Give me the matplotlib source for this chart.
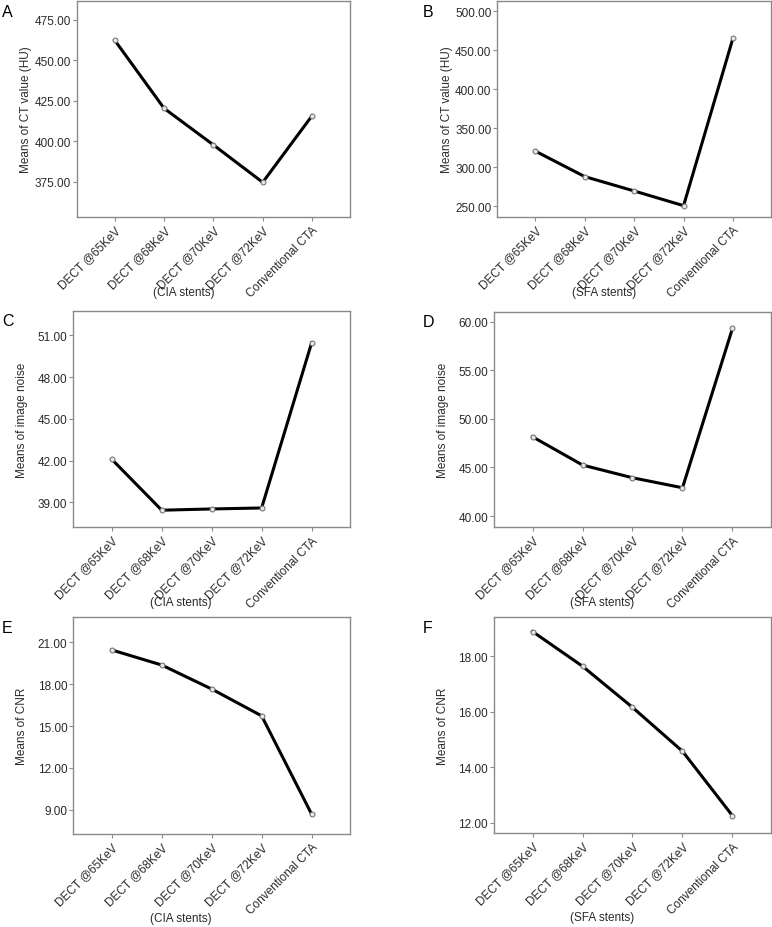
import matplotlib
matplotlib.use("Agg")
import matplotlib.pyplot as plt

plt.rcParams['font.family'] = ['Liberation Sans', 'DejaVu Sans']

# categories on the x axis
groups = ['DECT @65KeV', 'DECT @68KeV', 'DECT @70KeV', 'DECT @72KeV', 'Conventional CTA']

# means
ct_cia = [462.3, 420.3, 397.7, 374.6, 415.7]
ct_sfa = [320.6, 288.0, 269.6, 250.8, 465.2]
noise_cia = [42.09, 38.43, 38.52, 38.59, 50.45]
noise_sfa = [48.16, 45.25, 43.94, 42.91, 59.32]
cnr_cia = [20.45, 19.37, 17.65, 15.73, 8.69]
cnr_sfa = [18.89, 17.64, 16.16, 14.58, 12.26]

ct_cia_ticks = [375, 400, 425, 450, 475]
ct_sfa_ticks = [250, 300, 350, 400, 450, 500]
noise_cia_ticks = [39, 42, 45, 48, 51]
noise_sfa_ticks = [40, 45, 50, 55, 60]
cnr_cia_ticks = [9, 12, 15, 18, 21]
cnr_sfa_ticks = [12, 14, 16, 18]

fig = plt.figure(figsize=(7.72, 9.28), dpi=100)

panels = [
    # letter, rect, values, ticks, ylim, ylabel, xlabel, xlabel y
    ('A', [0.0994, 0.7651, 0.3540, 0.2327], ct_cia, ct_cia_ticks, (353.2, 486.5),
     'Means of CT value (HU)', '(CIA stents)', -0.347),
    ('B', [0.6442, 0.7651, 0.3545, 0.2327], ct_sfa, ct_sfa_ticks, (236.3, 512.8),
     'Means of CT value (HU)', '(SFA stents)', -0.347),
    ('C', [0.0950, 0.4307, 0.3584, 0.2334], noise_cia, noise_cia_ticks, (37.2, 52.77),
     'Means of image noise', '(CIA stents)', -0.345),
    ('D', [0.6399, 0.4307, 0.3588, 0.2323], noise_sfa, noise_sfa_ticks, (38.84, 61.03),
     'Means of image noise', '(SFA stents)', -0.345),
    ('E', [0.0950, 0.1002, 0.3584, 0.2335], cnr_cia, cnr_cia_ticks, (7.26, 22.79),
     'Means of CNR', '(CIA stents)', -0.388),
    ('F', [0.6399, 0.1010, 0.3588, 0.2327], cnr_sfa, cnr_sfa_ticks, (11.63, 19.4),
     'Means of CNR', '(SFA stents)', -0.388),
]

spine_col = '#8a8a8a'
text_col = '#2a2a2a'

for letter, rect, vals, ticks, ylim, ylab, xlab, xly in panels:
    ax = fig.add_axes(rect)
    x = range(len(groups))
    ax.plot(x, vals, color='black', lw=2.2, marker='o', markersize=3.5,
            markerfacecolor='#e8e8e8', markeredgecolor='#777777', markeredgewidth=0.8)
    ax.set_xlim(-0.77, len(groups) - 1 + 0.77)
    ax.set_ylim(*ylim)
    ax.set_yticks(ticks)
    ax.set_yticklabels([f'{t:.2f}' for t in ticks])
    ax.set_xticks(list(x))
    ax.set_xticklabels(groups, rotation=45, ha='right', rotation_mode='anchor')
    for s in ax.spines.values():
        s.set_color(spine_col)
        s.set_linewidth(1.0)
    ax.tick_params(axis='both', colors=spine_col, labelcolor=text_col,
                   labelsize=8.5, length=3, width=0.8)
    ax.tick_params(axis='x', pad=2)
    ax.tick_params(axis='y', pad=1.2)
    ax.set_ylabel(ylab, fontsize=8.5, color=text_col)
    ax.yaxis.set_label_coords(-0.163, 0.5)
    ax.text(0.39, xly, xlab, transform=ax.transAxes, ha='center', va='center',
            fontsize=8.5, color=text_col)
    # panel letter
    px = 2 / 772 if rect[0] < 0.5 else 423 / 772
    py = rect[1] + rect[3] - 10 / 928
    fig.text(px, py, letter, fontsize=11.5, ha='left', va='center', color='black')

fig.savefig('out.png', dpi=100)
